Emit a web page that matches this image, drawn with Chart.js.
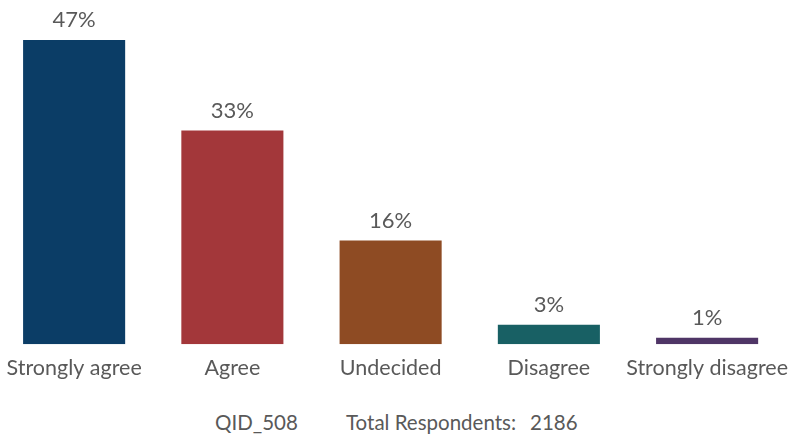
<!DOCTYPE html>
<html>
<head>
<meta charset="utf-8">
<script src="https://cdn.jsdelivr.net/npm/chart.js@4"></script>
<style>
  html, body { margin: 0; padding: 0; background: #fff; }
  #wrap { position: relative; width: 799px; height: 434px; overflow: hidden; }
  #chart { position: absolute; left: -5px; top: 0; }
  .foot { position: absolute; top: 410px; font-family: Lato, "Open Sans", sans-serif; font-size: 20.5px; color: #595959; white-space: nowrap; }
</style>
</head>
<body>
<div id="wrap">
  <canvas id="chart" width="804" height="392"></canvas>
  <div class="foot" style="left:215px">QID_508</div>
  <div class="foot" style="left:346px">Total Respondents:</div>
  <div class="foot" style="left:530px">2186</div>
</div>
<script>
const categories = ['Strongly agree', 'Agree', 'Undecided', 'Disagree', 'Strongly disagree'];
const percentValues = [47, 33, 16, 3, 1];
const barColors = ['#0b3d66', '#a3373a', '#8e4b23', '#186064', '#4f3566'];

// draws the "47%" style labels above each bar
const valueLabels = {
  id: 'valueLabels',
  afterDatasetsDraw(chart) {
    const ctx = chart.ctx;
    const meta = chart.getDatasetMeta(0);
    ctx.save();
    ctx.font = '22px Lato, "Open Sans", sans-serif';
    ctx.fillStyle = '#595959';
    ctx.textAlign = 'center';
    ctx.textBaseline = 'bottom';
    meta.data.forEach((bar, i) => {
      ctx.fillText(percentValues[i] + '%', bar.x, bar.y - 9);
    });
    ctx.restore();
  }
};

const ctx = document.getElementById('chart').getContext('2d');
new Chart(ctx, {
  type: 'bar',
  data: {
    labels: categories,
    datasets: [{
      data: percentValues,
      backgroundColor: barColors,
      borderWidth: 0,
      barPercentage: 0.645,
      categoryPercentage: 1,
    }],
  },
  options: {
    responsive: false,
    animation: false,
    layout: { padding: 0 },
    plugins: {
      legend: { display: false },
      tooltip: { enabled: false },
    },
    scales: {
      x: {
        grid: { display: false, drawTicks: false },
        border: { display: false },
        ticks: {
          color: '#595959',
          font: { family: 'Lato, "Open Sans", sans-serif', size: 21.5 },
          padding: 11,
          maxRotation: 0,
          autoSkip: false,
        },
      },
      y: {
        display: false,
        min: 0,
        max: 53.16,
      },
    },
  },
  plugins: [valueLabels],
});
</script>
</body>
</html>
